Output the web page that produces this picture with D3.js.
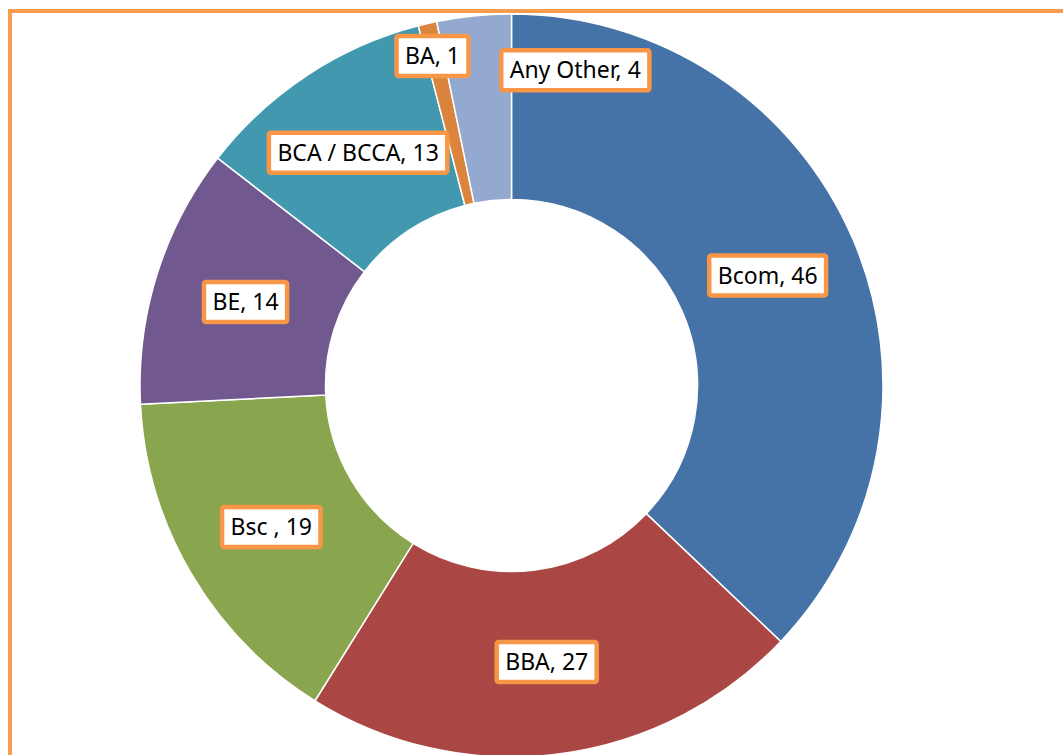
<!DOCTYPE html>
<html>
<head>
<meta charset="utf-8">
<script src="https://cdn.jsdelivr.net/npm/d3@7"></script>
<style>
    html, body { margin: 0; padding: 0; background: #fff; }
    svg { display: block; }
    .label text { font-family: "Noto Sans", sans-serif; font-size: 23px; fill: #000; }
</style>
</head>
<body>
<div id="chart"></div>
<script>
// chart values, clockwise from 12 o'clock
const categories = ["Bcom", "BBA", "Bsc ", "BE", "BCA / BCCA", "BA", "Any Other"];
const values = [46, 27, 19, 14, 13, 1, 4];
const colors = ["#4572A7", "#AA4643", "#89A54E", "#71588F", "#4198AF", "#DB843D", "#93A9CF"];

const width = 1063, height = 755;
const cx = 511.5, cy = 385.5;
const outerR = 371.5, innerR = 186;

// labels that were dragged off their slice in the original
const labelNudge = {
    "BA": [-16, -58],
    "Any Other": [92, -38]
};

const data = categories.map((c, i) => ({ name: c, value: values[i], color: colors[i] }));

const svg = d3.select("#chart").append("svg")
    .attr("width", width)
    .attr("height", height);

// orange frame (right & bottom edges fall outside the picture)
svg.append("rect")
    .attr("x", 10)
    .attr("y", 11)
    .attr("width", width + 20)
    .attr("height", height + 20)
    .attr("fill", "none")
    .attr("stroke", "#F99B4C")
    .attr("stroke-width", 4);

const pie = d3.pie()
    .sort(null)
    .value(d => d.value);

const arc = d3.arc()
    .innerRadius(innerR)
    .outerRadius(outerR);

const labelArc = d3.arc()
    .innerRadius((innerR + outerR) / 2)
    .outerRadius((innerR + outerR) / 2);

const plot = svg.append("g")
    .attr("transform", `translate(${cx},${cy})`);

const arcs = pie(data);

plot.selectAll(".slice")
    .data(arcs)
    .enter().append("path")
    .attr("class", "slice")
    .attr("d", arc)
    .attr("fill", d => d.data.color)
    .attr("stroke", "#fff")
    .attr("stroke-width", 1.5);

const labels = plot.selectAll(".label")
    .data(arcs)
    .enter().append("g")
    .attr("class", "label")
    .attr("transform", d => {
        let p = labelArc.centroid(d);
        let n = labelNudge[d.data.name] || [0, 0];
        return `translate(${p[0] + n[0]},${p[1] + n[1]})`;
    });

labels.append("text")
    .attr("text-anchor", "middle")
    .attr("dy", "0.35em")
    .text(d => `${d.data.name}, ${d.data.value}`);

// boxes sized to the text
labels.each(function() {
    const g = d3.select(this);
    const bb = g.select("text").node().getBBox();
    const padX = 8.5, h = 40;
    g.insert("rect", "text")
        .attr("x", bb.x - padX)
        .attr("y", -h / 2)
        .attr("width", bb.width + padX * 2)
        .attr("height", h)
        .attr("rx", 2)
        .attr("fill", "#fff")
        .attr("stroke", "#F79646")
        .attr("stroke-width", 4.5);
});
</script>
</body>
</html>
